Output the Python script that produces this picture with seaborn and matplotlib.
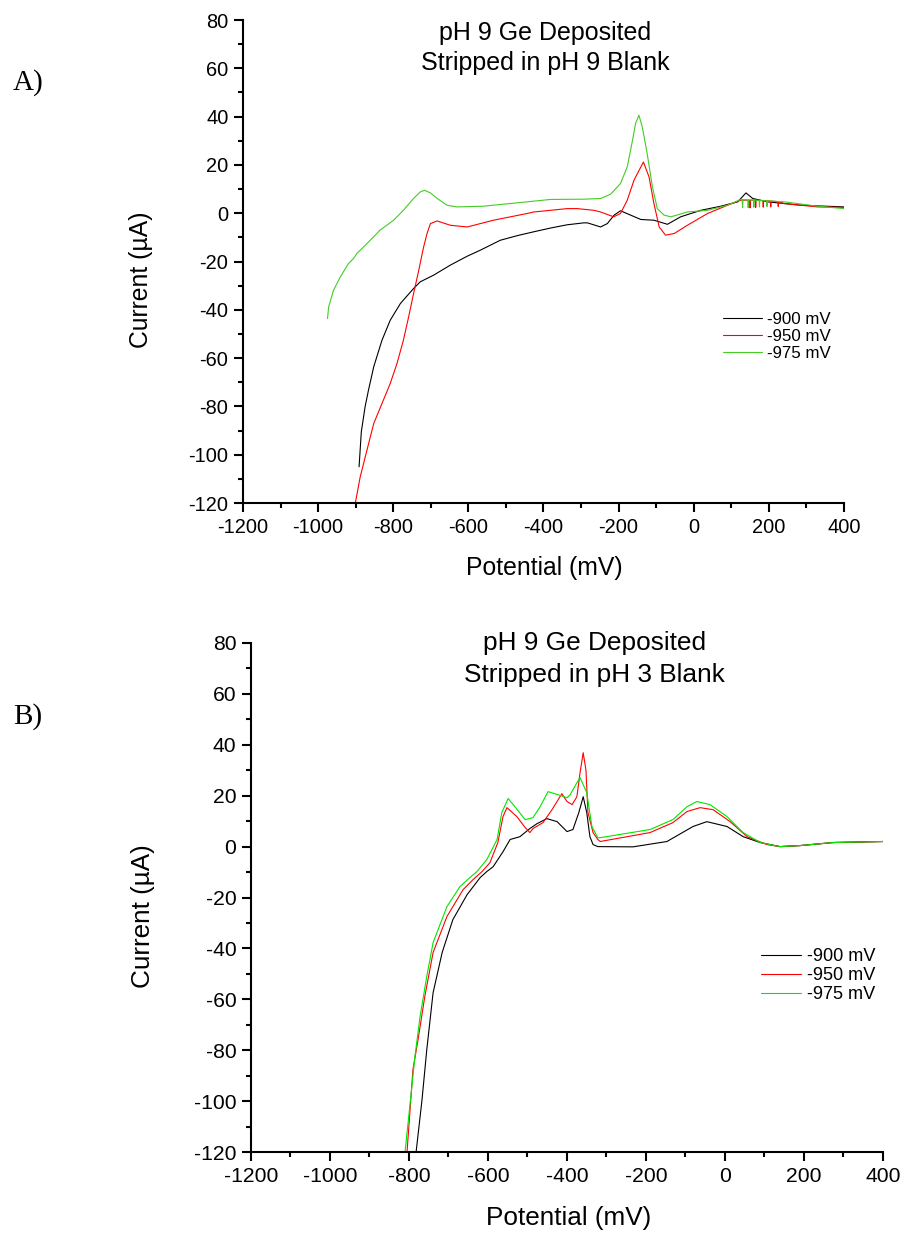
import numpy as np
import pandas as pd
import matplotlib
matplotlib.use("Agg")
import matplotlib.pyplot as plt
from matplotlib.ticker import MultipleLocator
import seaborn as sns

# ---------------- Panel A: pH 9 Ge deposited, stripped in pH 9 blank ----------------
a_x_900 = [-891, -885, -875, -866, -852, -830, -808, -781, -746, -728, -693, -648, -603, -568,
           -515, -470, -426, -380, -337, -293, -283, -248, -230, -212, -195, -168, -141, -106, -70, -35,
           19, 72, 117, 139, 157, 197, 285, 400]
a_y_900 = [-105, -90.5, -80.2, -73.3, -63.6, -52.6, -44.3, -37.4, -31.2, -28.4, -25.7, -21.5, -17.8, -15.3,
           -11.2, -9.3, -7.7, -6.1, -4.8, -4.0, -4.0, -5.7, -4.3, -0.8, 1.0, -0.8, -2.6, -2.9, -4.6, -1.5,
           1.2, 2.9, 4.7, 8.4, 6.1, 4.7, 3.3, 2.6]

a_x_950 = [-901, -888, -870, -852, -830, -808, -790, -773, -759, -746, -732, -721, -719, -710,
           -701, -683, -648, -603, -533, -443, -426, -337, -310, -266, -248, -213, -195, -177,
           -159, -134, -119, -106, -92, -75, -52, -17, 37, 90, 125,
           149, 150, 151, 164, 165, 166, 184, 185, 186, 204, 205, 206, 224, 225, 226,
           241, 330, 400]
a_y_950 = [-120, -109.2, -98.1, -87.1, -78.8, -70.5, -62.2, -52.6, -42.9, -33.3, -23.6, -15.3, -13.9, -8.4,
           -4.3, -3.2, -5.0, -5.7, -2.9, -0.1, 0.5, 1.9, 1.9, 1.2, 0.5, -1.5, -0.1, 5.4,
           13.7, 21.2, 15.0, 4.0, -5.7, -9.1, -8.4, -5.0, -0.1, 3.3, 5.4,
           5.4, 2.2, 5.4, 5.4, 2.4, 5.4, 5.2, 2.5, 5.2, 5.0, 2.6, 5.0, 4.8, 2.8, 4.8,
           4.0, 2.6, 2.4]

a_x_975 = [-975, -972, -959, -941, -919, -906, -897, -870, -835, -799, -773, -746, -728, -717,
           -701, -683, -657, -630, -559, -470, -381, -293, -248, -221, -195, -177, -163, -155,
           -146, -137, -124, -110, -97, -79, -61, -17, 37, 90, 125,
           129, 130, 131, 144, 145, 146, 159, 160, 161, 174, 175, 176, 194, 195, 196,
           241, 330, 400]
a_y_975 = [-43.6, -38.8, -31.9, -26.4, -20.8, -18.8, -16.7, -12.6, -7.0, -2.9, 1.2, 6.1, 8.8, 9.5,
           8.4, 6.1, 3.3, 2.6, 2.9, 4.3, 5.7, 5.8, 6.1, 7.9, 12.3, 19.2, 30.2, 37.1,
           40.6, 35.7, 24.7, 10.9, 1.9, -0.8, -1.5, 0.5, 1.2, 3.3, 5.7,
           5.6, 2.4, 5.6, 5.5, 2.3, 5.5, 5.4, 2.5, 5.4, 5.3, 2.6, 5.3, 5.1, 2.8, 5.1,
           4.7, 2.9, 1.9]

# ---------------- Panel B: pH 9 Ge deposited, stripped in pH 3 blank ----------------
b_x_900 = [-782, -767, -755, -739, -716, -689, -653, -620, -603, -587, -562, -544, -519, -494,
           -476, -451, -425, -400, -385, -370, -359, -350, -342, -334, -322, -233, -147, -81,
           -46, 5, 46, 89, 139, 190, 274, 400]
b_y_900 = [-120, -99.4, -79.8, -57.4, -41.6, -28.7, -18.9, -12.2, -9.8, -7.9, -2.0, 2.8, 3.9, 7.1,
           9.0, 11.0, 9.8, 5.9, 6.7, 13.4, 19.6, 13.4, 3.9, 0.8, 0.0, -0.1, 2.0, 7.9,
           9.8, 7.9, 3.9, 1.6, 0.0, 0.4, 1.6, 2.0]

b_x_950 = [-805, -790, -777, -760, -739, -704, -663, -638, -615, -595, -575, -562, -552, -527,
           -506, -494, -486, -461, -438, -413, -400, -387, -375, -367, -359, -352, -347, -334,
           -322, -316, -190, -132, -96, -63, -30, 13, 56, 106, 139, 190, 274, 400]
b_y_950 = [-120, -87.6, -75.8, -58.9, -41.6, -27.5, -16.9, -13.0, -9.8, -6.3, 1.6, 11.8, 15.3, 11.8,
           7.5, 5.5, 7.1, 9.4, 14.5, 20.8, 17.7, 16.5, 19.6, 29.0, 36.9, 30.0, 13.4, 5.5,
           2.8, 2.0, 5.5, 9.4, 13.8, 15.3, 14.5, 9.8, 3.9, 0.8, 0.0, 0.4, 1.6, 2.0]

b_x_975 = [-810, -797, -785, -772, -755, -739, -704, -671, -646, -628, -603, -577, -565, -549,
           -532, -506, -486, -468, -448, -423, -400, -392, -375, -367, -350, -337, -322, -316,
           -190, -132, -96, -71, -38, 5, 46, 89, 139, 190, 274, 400]
b_y_975 = [-120, -100.6, -82.5, -66.8, -51.0, -37.7, -23.6, -15.7, -12.2, -9.8, -5.1, 2.8, 13.4, 18.9,
           15.7, 10.6, 11.4, 15.7, 21.6, 20.4, 19.2, 20.4, 25.1, 27.1, 21.2, 7.9, 3.5, 3.5,
           6.7, 10.6, 15.7, 17.7, 16.5, 11.8, 5.5, 1.6, 0.0, 0.4, 1.6, 2.0]

series_labels = ["-900 mV", "-950 mV", "-975 mV"]
x_ticks = [-1200, -1000, -800, -600, -400, -200, 0, 200, 400]
y_ticks = [-120, -100, -80, -60, -40, -20, 0, 20, 40, 60, 80]

sns.set_style("ticks")
plt.rcParams["font.family"] = ["Liberation Sans", "DejaVu Sans"]
plt.rcParams.update({
    "axes.linewidth": 1.5,
    "axes.edgecolor": "black",
    "axes.labelcolor": "black",
    "text.color": "black",
    "xtick.color": "black",
    "ytick.color": "black",
})


def long_frame(xs, ys):
    parts = []
    for lab, x, y in zip(series_labels, xs, ys):
        parts.append(pd.DataFrame({"Potential": x, "Current": y, "Deposition": lab}))
    return pd.concat(parts, ignore_index=True)


df_a = long_frame([a_x_900, a_x_950, a_x_975], [a_y_900, a_y_950, a_y_975])
df_b = long_frame([b_x_900, b_x_950, b_x_975], [b_y_900, b_y_950, b_y_975])

fig = plt.figure(figsize=(9.04, 12.34), dpi=100)
ax_a = fig.add_axes([243 / 904, 1 - 503 / 1234, 601 / 904, 483 / 1234])
ax_b = fig.add_axes([251 / 904, 1 - 1152 / 1234, 632 / 904, 509 / 1234])

panels = [
    dict(ax=ax_a, df=df_a, pal=["#000000", "#ff0000", "#44cc22"],
         title=("pH 9 Ge Deposited", "Stripped in pH 9 Blank"),
         tx=0.503, ty=(0.9586, 0.8965), tfs=18, tick_fs=14.4, lab_fs=17.8,
         xl=(0.501, -0.149), yl=(-0.170, 0.462), leg_fs=12.2,
         leg_anchor=(0.799, 0.3954), handlelen=2.28, lbl="A)", lbl_y=1 - 90 / 1234),
    dict(ax=ax_b, df=df_b, pal=["#000000", "#ff0000", "#00e600"],
         title=("pH 9 Ge Deposited", "Stripped in pH 3 Blank"),
         tx=0.544, ty=(0.9862, 0.9234), tfs=18.9, tick_fs=15.2, lab_fs=18.8,
         xl=(0.502, -0.1434), yl=(-0.171, 0.463), leg_fs=13.1,
         leg_anchor=(0.807, 0.4008), handlelen=2.2, lbl="B)", lbl_y=1 - 724 / 1234),
]

for p in panels:
    ax = p["ax"]
    sns.lineplot(data=p["df"], x="Potential", y="Current", hue="Deposition",
                 hue_order=series_labels, palette=p["pal"], sort=False,
                 estimator=None, linewidth=0.8, legend=False, ax=ax)
    ax.set_xlim(-1200, 400)
    ax.set_ylim(-120, 80)
    ax.set_xticks(x_ticks)
    ax.set_yticks(y_ticks)
    ax.set_xticklabels([str(v) for v in x_ticks])
    ax.set_yticklabels([str(v) for v in y_ticks])
    ax.xaxis.set_minor_locator(MultipleLocator(100))
    ax.yaxis.set_minor_locator(MultipleLocator(10))
    ax.tick_params(which="major", direction="out", length=6.5, width=1.5,
                   labelsize=p["tick_fs"], pad=4, colors="black")
    ax.tick_params(which="minor", direction="out", length=3.6, width=1.5, colors="black")
    sns.despine(ax=ax)
    for side in ("left", "bottom"):
        ax.spines[side].set_linewidth(1.5)
        ax.spines[side].set_color("black")

    ax.set_xlabel("Potential (mV)", fontsize=p["lab_fs"], va="baseline", color="black")
    ax.xaxis.set_label_coords(*p["xl"])
    ax.set_ylabel("Current (\u00b5A)", fontsize=p["lab_fs"], va="center", color="black")
    ax.yaxis.set_label_coords(*p["yl"])

    for line, yy in zip(p["title"], p["ty"]):
        ax.text(p["tx"], yy, line, transform=ax.transAxes, ha="center",
                va="baseline", fontsize=p["tfs"], color="black", clip_on=False)

    handles = ax.get_lines()[:3]
    leg = ax.legend(handles, series_labels, loc="upper left", bbox_to_anchor=p["leg_anchor"],
                    frameon=False, fontsize=p["leg_fs"], handlelength=p["handlelen"],
                    handletextpad=0.3, labelspacing=0.12, borderpad=0, borderaxespad=0)
    for t in leg.get_texts():
        t.set_color("black")

    fig.text(13 / 904, p["lbl_y"], p["lbl"], fontsize=21, color="black",
             family=["Liberation Serif", "DejaVu Serif"], ha="left", va="baseline")

fig.savefig("out.png", dpi=100)
